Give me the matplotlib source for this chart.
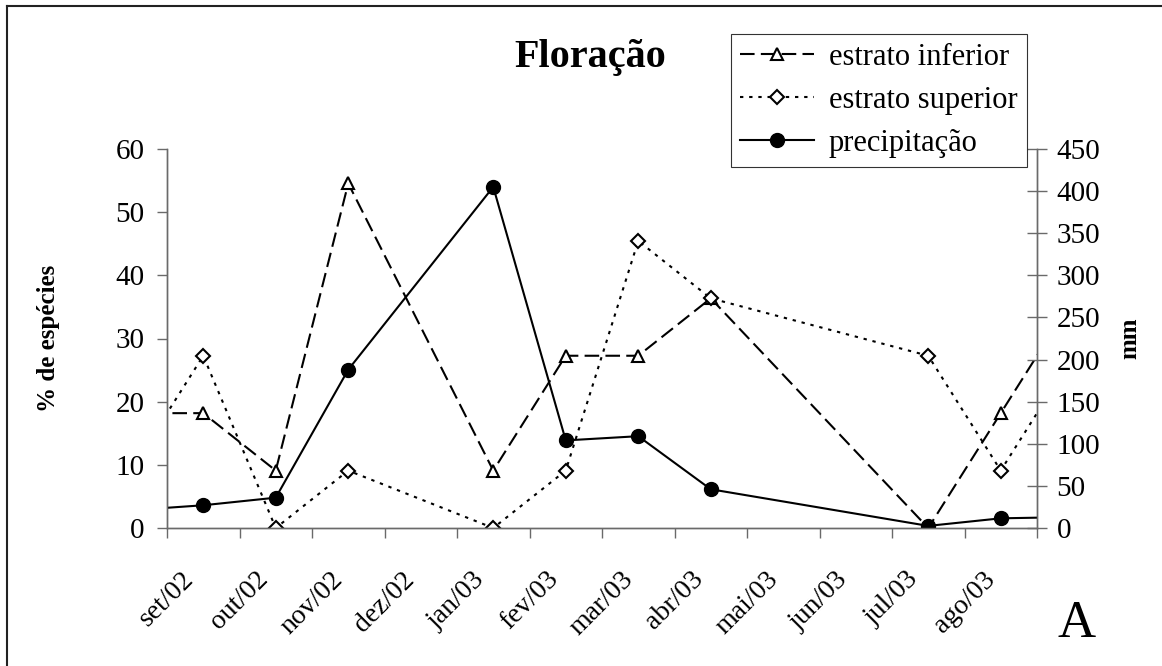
import matplotlib
matplotlib.use('Agg')
import matplotlib.pyplot as plt
from matplotlib.lines import Line2D

plt.rcParams['font.family'] = ['Liberation Serif', 'DejaVu Serif']

# eixo x (meses) e meses amostrados (ago/02 e set/03 ficam fora do eixo)
meses = ['set/02', 'out/02', 'nov/02', 'dez/02', 'jan/03', 'fev/03',
         'mar/03', 'abr/03', 'mai/03', 'jun/03', 'jul/03', 'ago/03']
amostras = ['ago/02', 'set/02', 'out/02', 'nov/02', 'jan/03', 'fev/03',
            'mar/03', 'abr/03', 'jul/03', 'ago/03', 'set/03']

estrato_inferior = [18.18, 18.18, 9.09, 54.55, 9.09, 27.27, 27.27, 36.36, 0, 18.18, 36.36]
estrato_superior = [9.09, 27.27, 0, 9.09, 0, 9.09, 45.45, 36.36, 27.27, 9.09, 27.27]
precipitacao = [21, 27, 36, 188, 405, 104, 109, 46, 2.5, 11.5, 13]

todos = ['ago/02'] + meses + ['set/03']
xs = [todos.index(m) - 1 + 0.5 for m in amostras]

fig = plt.figure(figsize=(11.62, 6.66), dpi=100)
ax = fig.add_axes([167/1162, 1 - 528/666, (1037-167)/1162, (528-149)/666])
ax2 = ax.twinx()

axcol = '#6a6a6a'
l1, = ax.plot(xs, estrato_inferior, color='black', lw=1.5, dashes=(7, 3),
              marker='^', ms=9, mfc='white', mec='black', mew=1.5,
              label='estrato inferior')
l2, = ax.plot(xs, estrato_superior, color='black', lw=1.5, dashes=(1.6, 2.8),
              marker='D', ms=7, mfc='white', mec='black', mew=1.5,
              label='estrato superior')
l3, = ax2.plot(xs, precipitacao, color='black', lw=1.5, marker='o', ms=10,
               mfc='black', mec='black', label='precipitação')

ax.set_xlim(0, 12)
ax.set_ylim(0, 60)
ax2.set_ylim(0, 450)
ax.set_yticks(range(0, 61, 10))
ax2.set_yticks(range(0, 451, 50))
ax.set_xticks(range(0, 13))
ax.set_xticklabels(meses + [''], rotation=45, ha='center')

ax.tick_params(axis='y', direction='out', length=7, width=1, color=axcol,
               labelsize=21, pad=9)
ax.tick_params(axis='x', direction='out', length=7, width=1, color=axcol,
               labelsize=20, pad=21)
ax2.tick_params(axis='y', direction='inout', length=14, width=1, color=axcol,
                labelsize=21, pad=7)

for a in (ax, ax2):
    a.spines['top'].set_visible(False)
    for s in ('left', 'right', 'bottom'):
        a.spines[s].set_color(axcol)
        a.spines[s].set_linewidth(1)
ax.patch.set_visible(False)

fig.text(48/1162, 1 - 338/666, '% de espécies', rotation=90, ha='center',
         va='center', fontsize=18, fontweight='bold')
fig.text(1130/1162, 1 - 338/666, 'mm', rotation=90, ha='center',
         va='center', fontsize=18, fontweight='bold')

fig.text(590/1162, 1 - 67/666, 'Floração', ha='center', va='baseline',
         fontsize=29, fontweight='bold')
fig.text(1077/1162, 1 - 637/666, 'A', ha='center', va='baseline', fontsize=38)

leg = fig.legend(handles=[l1, l2, l3], loc='upper left',
                 bbox_to_anchor=(731/1162, 1 - 34/666), fontsize=22,
                 frameon=True, fancybox=False, borderpad=0.3,
                 handlelength=2.4, handletextpad=0.5, labelspacing=0.45,
                 borderaxespad=0)
leg.get_frame().set_edgecolor('black')
leg.get_frame().set_linewidth(0.8)

# moldura do gráfico (só esquerda e topo aparecem)
fig.add_artist(Line2D([7/1162, 7/1162], [0, 1 - 6/666], color='#222222',
                      lw=1.5, transform=fig.transFigure))
fig.add_artist(Line2D([7/1162, 1], [1 - 6/666, 1 - 6/666], color='#222222',
                      lw=1.5, transform=fig.transFigure))

fig.savefig('out.png', dpi=100)
